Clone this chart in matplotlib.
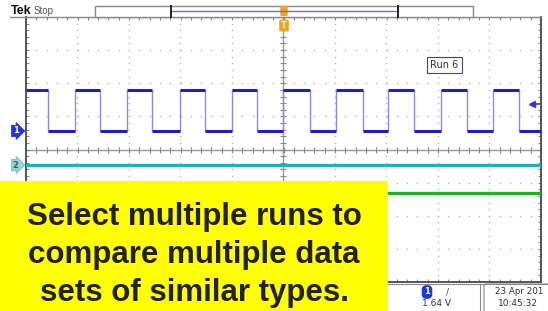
import numpy as np
import matplotlib
matplotlib.use("Agg")
import matplotlib.pyplot as plt
from matplotlib.patches import Rectangle, FancyBboxPatch
from matplotlib.transforms import blended_transform_factory

# --- scope data (divisions) ---
ch1_edges = [-4.57, -4.05, -3.56, -3.04, -2.55, -2.01, -1.52, -1.00, -0.52, 0.0,
             0.52, 1.02, 1.54, 2.03, 2.53, 3.06, 3.56, 4.07, 4.57]
ch1_high = 1.80
ch1_low = 0.56
ch2_level = -0.47
ch3_level = -1.31
trig_level = 1.37

run_label = "Run 6"
trig_text = "1.64 V"
date_text = "23 Apr 201"
time_text = "10:45:32"
caption = ["Select multiple runs to", "compare multiple data", "sets of similar types."]

W, H = 548, 311
fig = plt.figure(figsize=(W / 100, H / 100), dpi=100)
fig.patch.set_facecolor("white")

# graticule axes
L, R, T, B = 26, 541, 17, 282
ax = fig.add_axes([L / W, (H - B) / H, (R - L) / W, (B - T) / H])
ax.set_xlim(-5, 5)
ax.set_ylim(-4, 4)
ax.set_xticks(np.arange(-5, 5.001, 0.2))
ax.set_yticks(np.arange(-4, 4.001, 0.2))
ax.tick_params(direction="in", length=2.5, width=0.8, color="#888888",
               top=True, right=True, labelbottom=False, labelleft=False)
for s in ["left", "right", "bottom"]:
    ax.spines[s].set_color("#555555")
    ax.spines[s].set_linewidth(1.4)
ax.spines["top"].set_color("#888888")
ax.spines["top"].set_linewidth(1.0)

# dotted grid
sub_y = np.arange(-4, 4.001, 0.2)
sub_x = np.arange(-5, 5.001, 0.2)
for gx in [-4, -3, -2, -1, 1, 2, 3, 4]:
    ax.scatter(np.full_like(sub_y, gx), sub_y, s=1.2, color="#b8b8b8", lw=0, zorder=1)
for gy in [-3, -2, -1, 1, 2, 3]:
    ax.scatter(sub_x, np.full_like(sub_x, gy), s=1.2, color="#b8b8b8", lw=0, zorder=1)
# center cross with ticks
ax.axhline(0, color="#999999", lw=1.0, zorder=1)
ax.axvline(0, color="#999999", lw=1.0, zorder=1)
ax.plot(sub_x, np.zeros_like(sub_x), ls="none", marker="|", ms=4, color="#888888", mew=0.8)
ax.plot(np.zeros_like(sub_y), sub_y, ls="none", marker="_", ms=4, color="#888888", mew=0.8)

# channel 1 square wave
t = [-5] + ch1_edges + [5]
levels = [ch1_high if i % 2 == 0 else ch1_low for i in range(len(t) - 1)]
ax.vlines(ch1_edges, ch1_low, ch1_high, color="#8a8af0", lw=1.0, zorder=3)
ax.hlines(levels, t[:-1], t[1:], color="#1f1fc8", lw=2.2, zorder=4)

# channel 2 / 3
ax.axhline(ch2_level, color="#1fb0b8", lw=2.4, zorder=3)
ax.axhline(ch3_level, color="#1fb01f", lw=2.4, zorder=3)

# trigger level arrow
ax.plot([4.83], [trig_level], marker="<", ms=5, color="#2a3ae0", clip_on=False, zorder=5)
ax.plot([4.83, 4.97], [trig_level, trig_level], color="#2a3ae0", lw=1.2, zorder=5)

# channel markers on the left
bt = blended_transform_factory(ax.transAxes, ax.transData)
ax.text(-0.02, ch1_low, "1", transform=bt, ha="center", va="center", fontsize=6,
        color="white", fontweight="bold", clip_on=False,
        bbox=dict(boxstyle="rarrow,pad=0.15", fc="#2233dd", ec="#2233dd", lw=0.5))
ax.text(-0.02, ch2_level, "2", transform=bt, ha="center", va="center", fontsize=6,
        color="#555555", fontweight="bold", clip_on=False,
        bbox=dict(boxstyle="rarrow,pad=0.15", fc="#8fd6d6", ec="#6fbaba", lw=0.5))

# "Run 6" label
ax.text(3.12, 2.55, run_label, ha="center", va="center", fontsize=7, color="#333333",
        bbox=dict(boxstyle="square,pad=0.35", fc="white", ec="#3a4a80", lw=0.8), zorder=6)

# overlay in pixel coords for the surrounding scope decorations
ov = fig.add_axes([0, 0, 1, 1])
ov.set_xlim(0, W)
ov.set_ylim(H, 0)
ov.axis("off")
ov.patch.set_alpha(0)

ov.text(11, 14.5, "Tek", fontsize=9, fontweight="bold", color="#111111", va="baseline",
        family="Liberation Sans")
ov.text(34, 14.5, "Stop", fontsize=7, color="#555555", va="baseline", family="Liberation Sans")
ov.plot([10, L], [T, T], color="#888888", lw=1.0)

# record-view bar
ov.add_patch(Rectangle((95, 6), 378, 11, fc="white", ec="#888888", lw=1.0))
ov.plot([171, 398], [11, 11], color="#6a6af0", lw=1.0)
ov.plot([171, 171], [6, 17], color="#111111", lw=1.3)
ov.plot([398, 398], [6, 17], color="#111111", lw=1.3)
ov.add_patch(FancyBboxPatch((281.5, 7), 5, 8, boxstyle="round,pad=0.5", fc="#f5a020", ec="#f5a020"))
ov.add_patch(FancyBboxPatch((280.5, 21), 7, 9, boxstyle="round,pad=0.6", fc="#f5a020", ec="#f5a020"))
ov.text(284, 26, "T", ha="center", va="center", fontsize=6, fontweight="bold", color="white")

# status bar
ov.plot([0, W], [283.5, 283.5], color="#888888", lw=0.8)
ov.plot([480, 480], [283.5, H], color="#888888", lw=0.8)
ov.add_patch(FancyBboxPatch((486, 286), 70, 30, boxstyle="round,pad=2", fc="white", ec="#888888", lw=0.8))
ov.text(427, 292, "1", ha="center", va="center", fontsize=6, color="white", fontweight="bold",
        bbox=dict(boxstyle="round,pad=0.2,rounding_size=0.5", fc="#1a3ae0", ec="#1a3ae0"))
ov.text(448, 292, "/", ha="center", va="center", fontsize=6.5, color="#444444")
ov.text(437, 303, trig_text, ha="center", va="center", fontsize=6.5, color="#333333")
ov.text(495, 292, date_text, ha="left", va="center", fontsize=6.3, color="#333333")
ov.text(498, 303, time_text, ha="left", va="center", fontsize=6.5, color="#333333")

# yellow caption box
ov.add_patch(Rectangle((0, 181), 388, H - 181, fc="#ffff00", ec="none", zorder=10))
for yy, line in zip([217, 255, 293], caption):
    ov.text(194, yy, line, ha="center", va="center", fontsize=22.5, fontweight="bold",
            color="#222222", family="Liberation Sans", zorder=11)

fig.savefig("out.png", dpi=100)
